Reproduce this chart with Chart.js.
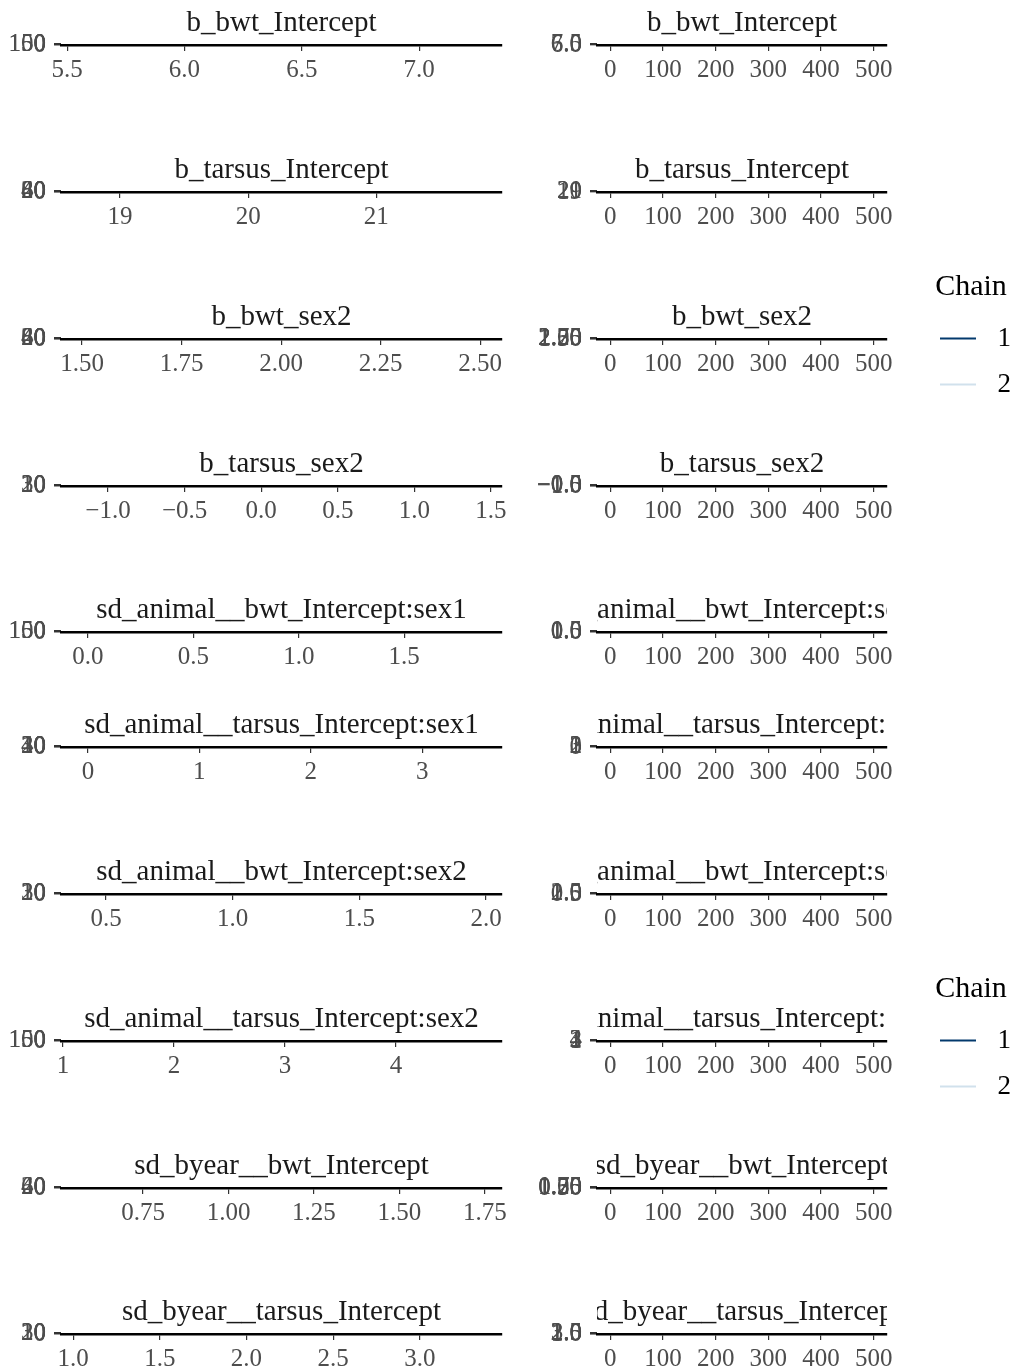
<!DOCTYPE html>
<html>
<head>
<meta charset="utf-8">
<script src="https://cdn.jsdelivr.net/npm/chart.js@4.4.1/dist/chart.umd.min.js"></script>
<style>
  html, body { margin: 0; padding: 0; background: #ffffff; }
  body { width: 1017px; height: 1372px; position: relative; overflow: hidden; }
  canvas { position: absolute; }
</style>
</head>
<body>
<script>
// ---- data -------------------------------------------------------------
const parameters = [
  "b_bwt_Intercept",
  "b_tarsus_Intercept",
  "b_bwt_sex2",
  "b_tarsus_sex2",
  "sd_animal__bwt_Intercept:sex1",
  "sd_animal__tarsus_Intercept:sex1",
  "sd_animal__bwt_Intercept:sex2",
  "sd_animal__tarsus_Intercept:sex2",
  "sd_byear__bwt_Intercept",
  "sd_byear__tarsus_Intercept"
];

// posterior value axis of the density panels
const densityTickLabels = [
  ["5.5", "6.0", "6.5", "7.0"],
  ["19", "20", "21"],
  ["1.50", "1.75", "2.00", "2.25", "2.50"],
  ["\u22121.0", "\u22120.5", "0.0", "0.5", "1.0", "1.5"],
  ["0.0", "0.5", "1.0", "1.5"],
  ["0", "1", "2", "3"],
  ["0.5", "1.0", "1.5", "2.0"],
  ["1", "2", "3", "4"],
  ["0.75", "1.00", "1.25", "1.50", "1.75"],
  ["1.0", "1.5", "2.0", "2.5", "3.0"]
];
const densityMin = [5.474, 18.54, 1.447, -1.307, -0.128, -0.242, 0.322, 0.982, 0.510, 0.930];
const densityMax = [7.353, 21.98, 2.555, 1.572, 1.964, 3.717, 2.063, 4.955, 1.800, 3.474];

// count axis of the density panels
const countTickLabels = [
  ["0", "50", "100", "150"],
  ["0", "20", "40", "60", "80"],
  ["0", "20", "40", "60", "80"],
  ["0", "10", "20", "30"],
  ["0", "50", "100", "150"],
  ["0", "10", "20", "30", "40"],
  ["0", "10", "20", "30"],
  ["0", "50", "100", "150"],
  ["0", "20", "40", "60"],
  ["0", "10", "20", "30"]
];

// value axis of the trace panels
const traceValueLabels = [
  ["6.0", "6.5", "7.0"],
  ["19", "20", "21"],
  ["1.50", "1.75", "2.00", "2.25", "2.50"],
  ["\u22121.0", "\u22120.5", "0.0", "0.5", "1.0"],
  ["0.0", "0.5", "1.0", "1.5"],
  ["0", "1", "2", "3"],
  ["0.5", "1.0", "1.5", "2.0"],
  ["1", "2", "3", "4"],
  ["0.50", "0.75", "1.00", "1.25", "1.50", "1.75"],
  ["1.0", "1.5", "2.0", "2.5", "3.0"]
];

// iteration axis of the trace panels
const iterationTickLabels = ["0", "100", "200", "300", "400", "500"];
const iterationMin = -25;
const iterationMax = 525;

const chains = ["1", "2"];

// ---- styling / layout -------------------------------------------------
const chainColors = ["#03396c", "#d1e1ec"];
const FONT = "'Liberation Serif', 'Times New Roman', serif";
const TITLE_SIZE = 29;
const TICK_SIZE = 25;
const TICK_COLOR = "#4d4d4d";
const AXIS_Y = [45, 192, 339, 486, 632, 747, 894, 1041, 1188, 1334];

const CANVAS_H = 96;
const PAD_TOP = 48;       // space above the (collapsed) panel for the strip title
const X_AXIS_H = 47;      // height given to the x axis below the panel

const num = s => parseFloat(String(s).replace("\u2212", "-"));

// strip title above each panel, clipped to the panel's width
const stripTitle = {
  id: "stripTitle",
  afterDraw(chart, args, opts) {
    const { ctx, chartArea } = chart;
    ctx.save();
    ctx.beginPath();
    ctx.rect(chartArea.left, 0, chartArea.right - chartArea.left, chartArea.top);
    ctx.clip();
    ctx.font = `${TITLE_SIZE}px ${FONT}`;
    ctx.fillStyle = "#1a1a1a";
    ctx.textAlign = "center";
    ctx.textBaseline = "alphabetic";
    ctx.fillText(opts.text, (chartArea.left + chartArea.right) / 2, chartArea.top - 13);
    ctx.restore();
  }
};

function addCanvas(left, top, width, height) {
  const c = document.createElement("canvas");
  c.width = width;
  c.height = height;
  c.style.left = left + "px";
  c.style.top = top + "px";
  c.style.width = width + "px";
  c.style.height = height + "px";
  document.body.appendChild(c);
  return c;
}

function panel(cfg) {
  const canvas = addCanvas(cfg.left, cfg.top, cfg.width, CANVAS_H);
  const xVals = cfg.xLabels.map(num);
  const yVals = cfg.yLabels.map(num);
  return new Chart(canvas, {
    type: "line",
    data: { datasets: [] },
    plugins: [stripTitle],
    options: {
      responsive: false,
      animation: false,
      events: [],
      layout: { padding: { top: PAD_TOP, right: cfg.width - cfg.plotRight, bottom: 0, left: 0 } },
      plugins: {
        legend: { display: false },
        tooltip: { enabled: false },
        stripTitle: { text: cfg.title }
      },
      scales: {
        x: {
          type: "linear",
          position: "bottom",
          min: cfg.xMin,
          max: cfg.xMax,
          afterBuildTicks: s => { s.ticks = xVals.map(v => ({ value: v })); },
          afterFit: s => { s.height = X_AXIS_H; s.paddingLeft = 0; s.paddingRight = 0; },
          border: { display: true, color: "#000000", width: 2.5 },
          grid: { drawOnChartArea: false, drawTicks: true, tickLength: 6, color: "#333333", lineWidth: 1.2 },
          ticks: {
            autoSkip: false,
            maxRotation: 0,
            padding: 4,
            color: TICK_COLOR,
            font: { family: FONT, size: TICK_SIZE },
            callback: (v, i) => cfg.xLabels[i]
          }
        },
        y: {
          type: "linear",
          position: "left",
          min: yVals[0],
          max: yVals[yVals.length - 1],
          afterBuildTicks: s => { s.ticks = yVals.map(v => ({ value: v })); },
          afterFit: s => { s.width = cfg.plotLeft; s.paddingTop = 0; s.paddingBottom = 0; },
          border: { display: false },
          grid: { drawOnChartArea: false, drawTicks: true, tickLength: 7, color: "#333333", lineWidth: 1.2 },
          ticks: {
            autoSkip: false,
            padding: 8,
            color: TICK_COLOR,
            font: { family: FONT, size: TICK_SIZE },
            callback: (v, i) => cfg.yLabels[i]
          }
        }
      }
    }
  });
}

// density panels (left column) and trace panels (right column)
parameters.forEach((name, i) => {
  const top = AXIS_Y[i] - (PAD_TOP + 1);
  panel({
    left: 0, top, width: 515, plotLeft: 61, plotRight: 502,
    title: name,
    xLabels: densityTickLabels[i], xMin: densityMin[i], xMax: densityMax[i],
    yLabels: countTickLabels[i]
  });
  panel({
    left: 515, top, width: 400, plotLeft: 82, plotRight: 372,
    title: name,
    xLabels: iterationTickLabels, xMin: iterationMin, xMax: iterationMax,
    yLabels: traceValueLabels[i]
  });
});

// legend key: a short line segment followed by some blank space before the label
const KEY_W = 44, KEY_LINE = 36;
function keyGlyph(color, width) {
  const c = document.createElement("canvas");
  c.width = KEY_W;
  c.height = 6;
  const g = c.getContext("2d");
  g.strokeStyle = color;
  g.lineWidth = width;
  g.beginPath();
  g.moveTo(0, 3);
  g.lineTo(KEY_LINE, 3);
  g.stroke();
  return c;
}

// chain legends
function chainLegend(top) {
  const canvas = addCanvas(921, top, 300, 220);
  return new Chart(canvas, {
    type: "line",
    data: {
      labels: [],
      datasets: chains.map((c, i) => ({
        label: c,
        data: [],
        borderColor: chainColors[i],
        backgroundColor: chainColors[i],
        borderWidth: 0,
        pointStyle: keyGlyph(chainColors[i], 2)
      }))
    },
    options: {
      responsive: false,
      animation: false,
      events: [],
      layout: { padding: 0 },
      scales: { x: { display: false }, y: { display: false } },
      plugins: {
        tooltip: { enabled: false },
        legend: {
          display: true,
          position: "left",
          align: "start",
          title: {
            display: true,
            text: "Chain",
            position: "center",
            color: "#000000",
            padding: { top: 10, bottom: -2 },
            font: { family: FONT, size: 30 }
          },
          labels: {
            usePointStyle: true,
            pointStyleWidth: KEY_W,
            boxHeight: 6,
            padding: 19,
            color: "#000000",
            font: { family: FONT, size: 27 }
          }
        }
      }
    }
  });
}
chainLegend(262);
chainLegend(964);
</script>
</body>
</html>
